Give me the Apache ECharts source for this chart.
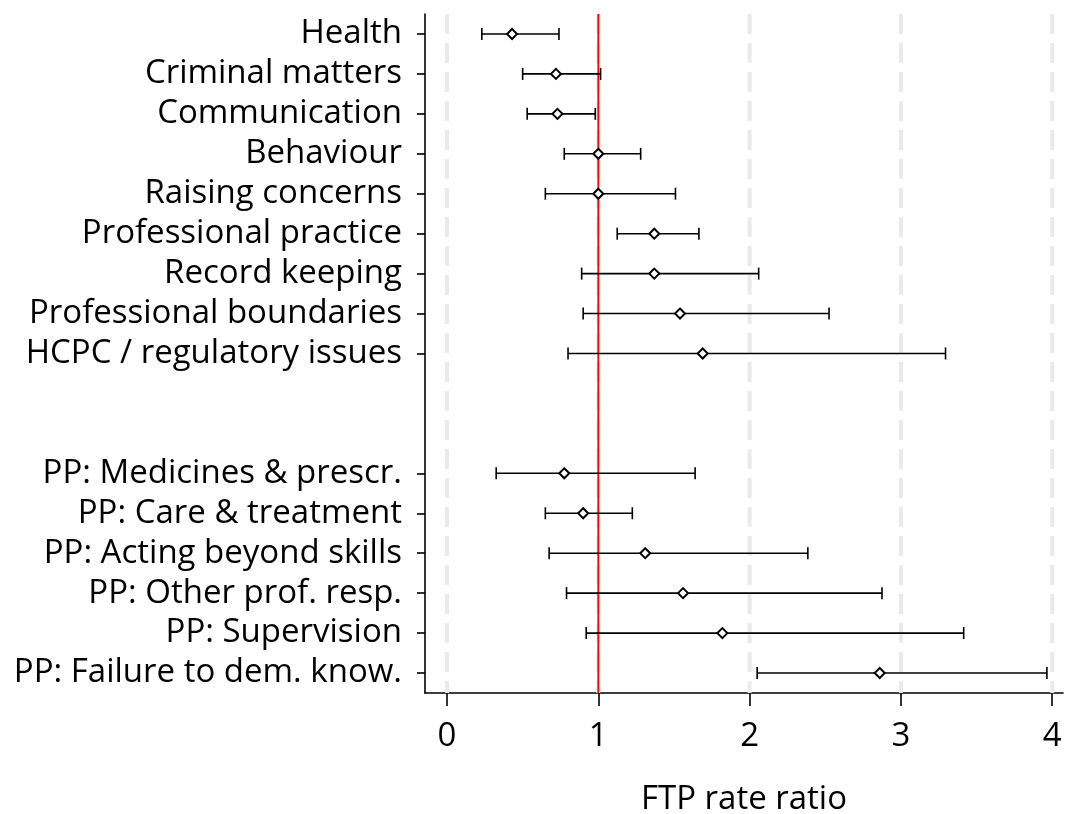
<!DOCTYPE html>
<html>
<head>
<meta charset="utf-8">
<script src="https://cdn.jsdelivr.net/npm/echarts@6/dist/echarts.min.js"></script>
<style>html,body{margin:0;padding:0;background:#fff;overflow:hidden;}#chart{width:1065px;height:814px;}</style>
</head>
<body>
<div id="chart"></div>
<script>
const categories = ['Health', 'Criminal matters', 'Communication', 'Behaviour', 'Raising concerns',
  'Professional practice', 'Record keeping', 'Professional boundaries', 'HCPC / regulatory issues',
  ' ', '  ',
  'PP: Medicines & prescr.', 'PP: Care & treatment', 'PP: Acting beyond skills',
  'PP: Other prof. resp.', 'PP: Supervision', 'PP: Failure to dem. know.'];
const estimates = [0.43, 0.72, 0.73, 1.00, 1.00, 1.37, 1.37, 1.54, 1.69, null, null, 0.775, 0.90, 1.31, 1.56, 1.82, 2.86];
const lowerCI   = [0.23, 0.50, 0.53, 0.775, 0.65, 1.125, 0.89, 0.90, 0.80, null, null, 0.325, 0.65, 0.675, 0.79, 0.92, 2.05];
const upperCI   = [0.74, 1.015, 0.98, 1.28, 1.51, 1.665, 2.06, 2.525, 3.295, null, null, 1.64, 1.225, 2.385, 2.875, 3.415, 3.965];
const tickValues = [0, 1, 2, 3, 4];
const referenceValue = 1;

const FONT = '"Open Sans"';
const FS = 33;
const chart = echarts.init(document.getElementById('chart'), null, {renderer: 'canvas'});

const ciData = [];
const ptData = [];
categories.forEach((c, i) => {
  if (estimates[i] != null) {
    ciData.push([lowerCI[i], upperCI[i], i]);
    ptData.push([estimates[i], i]);
  }
});

chart.setOption({
  animation: false,
  backgroundColor: '#fff',
  grid: {left: 425, right: 2, top: 14, bottom: 121, containLabel: false, outerBoundsMode: 'none'},
  xAxis: {
    type: 'value', min: -0.1454, max: 4.0714,
    splitLine: {show: false},
    axisLine: {show: true, onZero: false, lineStyle: {color: '#000', width: 1.6}},
    axisTick: {show: true, customValues: tickValues, length: 13, lineStyle: {color: '#000', width: 1.6}},
    axisLabel: {customValues: tickValues, fontSize: FS, color: '#000', fontFamily: FONT, margin: 27},
    name: 'FTP rate ratio', nameLocation: 'middle', nameGap: 90,
    nameTextStyle: {fontSize: FS, color: '#000', fontFamily: FONT}
  },
  yAxis: {
    type: 'category', inverse: true, data: categories,
    axisLine: {show: true, onZero: false, lineStyle: {color: '#000', width: 1.6}},
    axisTick: {show: true, alignWithLabel: true, length: 8, lineStyle: {color: '#000', width: 1.6},
      interval: (idx, val) => String(val).trim() !== ''},
    axisLabel: {interval: 0, fontSize: FS, color: '#000', fontFamily: FONT, margin: 23},
    splitLine: {show: false}
  },
  series: [
    {
      type: 'custom', z: 1, silent: true,
      data: tickValues.map(v => [v]),
      encode: {x: 0},
      renderItem: (params, api) => {
        const cs = params.coordSys;
        const x = api.coord([api.value(0), 0])[0];
        return {type: 'line', shape: {x1: x, y1: cs.y, x2: x, y2: cs.y + cs.height},
          style: {stroke: '#eaeaea', lineWidth: 4, lineDash: [20, 9]}};
      }
    },
    {
      type: 'custom', z: 2, silent: true,
      data: [[referenceValue]],
      encode: {x: 0},
      renderItem: (params, api) => {
        const cs = params.coordSys;
        const x = api.coord([api.value(0), 0])[0];
        return {type: 'line', shape: {x1: x, y1: cs.y, x2: x, y2: cs.y + cs.height},
          style: {stroke: '#ff0000', lineWidth: 1.8}};
      }
    },
    {
      type: 'custom', z: 3, silent: true,
      data: ciData,
      encode: {x: [0, 1], y: 2},
      renderItem: (params, api) => {
        const p1 = api.coord([api.value(0), api.value(2)]);
        const p2 = api.coord([api.value(1), api.value(2)]);
        const h = 6;
        const st = {stroke: '#000', lineWidth: 1.6, fill: null};
        return {type: 'group', children: [
          {type: 'line', shape: {x1: p1[0], y1: p1[1], x2: p2[0], y2: p2[1]}, style: st},
          {type: 'line', shape: {x1: p1[0], y1: p1[1] - h, x2: p1[0], y2: p1[1] + h}, style: st},
          {type: 'line', shape: {x1: p2[0], y1: p2[1] - h, x2: p2[0], y2: p2[1] + h}, style: st}
        ]};
      }
    },
    {
      type: 'scatter', z: 4, silent: true,
      data: ptData,
      symbol: 'diamond', symbolSize: 10,
      itemStyle: {color: '#fff', borderColor: '#000', borderWidth: 2, opacity: 1}
    }
  ]
});
</script>
</body>
</html>
